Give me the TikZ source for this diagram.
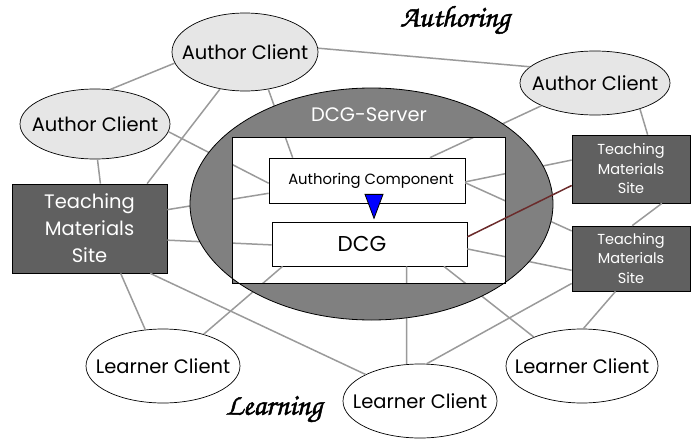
\documentclass[tikz,border=0pt]{standalone}
\usepackage{fontspec}
\setmainfont{Poppins}
\newfontfamily\scriptf[FakeBold=1.6]{TeX Gyre Chorus}
\usetikzlibrary{shapes.geometric,calc}
\definecolor{linegray}{HTML}{9A9A9A}
\definecolor{srvgray}{HTML}{808080}
\definecolor{tmsfill}{HTML}{606060}
\definecolor{acfill}{HTML}{E6E6E6}
\definecolor{brownline}{HTML}{6B2B2B}
\begin{document}
\begin{tikzpicture}[x=1pt,y=-1pt,
  conn/.style={draw=linegray,line width=1.5pt},
  authorc/.style={ellipse,draw=black,line width=0.7pt,fill=acfill,inner sep=0pt,font=\fontsize{19.5}{22}\selectfont},
  learnerc/.style={ellipse,draw=black,line width=0.7pt,fill=white,inner sep=0pt,font=\fontsize{19.5}{22}\selectfont},
  tmsbig/.style={rectangle,draw=black,line width=0.7pt,fill=tmsfill,text=white,align=center,inner sep=0pt,font=\fontsize{19.5}{27}\selectfont},
  tmssmall/.style={rectangle,draw=black,line width=0.7pt,fill=tmsfill,text=white,align=center,inner sep=0pt,font=\fontsize{14.5}{19.5}\selectfont},
  wbox/.style={rectangle,draw=black,line width=0.7pt,fill=white,inner sep=0pt},
  scriptlbl/.style={font=\scriptf\fontsize{30}{32}\selectfont}]
\useasboundingbox (0,0) rectangle (691,439);

% nodes
\node[authorc,minimum width=146pt,minimum height=78pt] (acT) at (245,52) {\makebox[0pt]{Author Client}};
\node[authorc,minimum width=150pt,minimum height=70pt] (acL) at (95,124) {\makebox[0pt]{Author Client}};
\node[authorc,minimum width=150pt,minimum height=64pt] (acR) at (595,83) {\makebox[0pt]{Author Client}};
\node[tmsbig,minimum width=155pt,minimum height=89pt] (tmsL) at (89.5,228.5) {Teaching\\Materials\\Site};
\node[tmssmall,minimum width=118pt,minimum height=68pt] (tmsR1) at (631,169) {Teaching\\Materials\\Site};
\node[tmssmall,minimum width=118pt,minimum height=65pt] (tmsR2) at (631,258.5) {Teaching\\Materials\\Site};
\node[learnerc,minimum width=154pt,minimum height=74pt] (lcL) at (163,366) {\makebox[0pt]{Learner Client}};
\node[learnerc,minimum width=154pt,minimum height=74pt] (lcM) at (420,401) {\makebox[0pt]{Learner Client}};
\node[learnerc,minimum width=152pt,minimum height=74pt] (lcR) at (582,366) {\makebox[0pt]{Learner Client}};
\node[wbox,minimum width=196pt,minimum height=45pt,font=\fontsize{14.8}{17}\selectfont] (acomp) at (367,180.5) {\makebox[0pt]{\hspace*{8pt}Authoring Component}};
\node[wbox,minimum width=195pt,minimum height=44pt,font=\fontsize{21.5}{24}\selectfont] (dcg) at (369.5,244) {\makebox[0pt]{DCG\hspace*{15pt}}};
\node[scriptlbl] (authlbl) at (455,20) {Authoring};
\node[scriptlbl] (learnlbl) at (274,409) {Learning};

% connectors (drawn beneath the server ring)
\draw[conn] (acT.3) -- (acR.166);
\draw[conn] (acT.189) -- (acL.66);
\draw[conn] (acT.236) -- ($(tmsL.north west)!0.87!(tmsL.north east)$);
\draw[conn] (acT.302) -- ($(acomp.north west)!0.122!(acomp.north east)$);
\draw[conn] (acL.354) -- ($(acomp.north west)!0.56!(acomp.south west)$);
\draw[conn] (acL.-86) -- ($(tmsL.north west)!0.57!(tmsL.north east)$);
\draw[conn] (acR.203) -- ($(acomp.north west)!0.82!(acomp.north east)$);
\draw[conn] (acR.330) -- ($(tmsR1.north west)!0.64!(tmsR1.north east)$);
\draw[conn] ($(tmsR1.north west)!0.37!(tmsR1.south west)$) -- ($(acomp.north east)!0.53!(acomp.south east)$);
\draw[conn] ($(acomp.north east)!0.55!(acomp.south east)$) -- ($(tmsR2.north west)!0.08!(tmsR2.south west)$);
\draw[conn] ($(tmsR2.north west)!0.51!(tmsR2.north east)$) -- ($(tmsR1.south west)!0.76!(tmsR1.south east)$);
\draw[conn] ($(dcg.north east)!0.61!(dcg.south east)$) -- ($(tmsR2.north west)!0.68!(tmsR2.south west)$);
\draw[conn] ($(dcg.south west)!0.69!(dcg.south east)$) -- (lcM.110);
\draw[conn] ($(dcg.south west)!0.88!(dcg.south east)$) -- (lcR.149);
\draw[conn] ($(tmsR2.south west)!0.37!(tmsR2.south east)$) -- (lcR.88);
\draw[conn] ($(tmsR2.north west)!0.88!(tmsR2.south west)$) -- (lcM.80);
\draw[conn] ($(tmsL.south west)!0.89!(tmsL.south east)$) -- (lcM.154);
\draw[conn] ($(tmsL.south west)!0.70!(tmsL.south east)$) -- (lcL.116);
\draw[conn] (lcL.38) -- ($(dcg.south west)!0.056!(dcg.south east)$);
\draw[conn] ($(tmsL.north east)!0.29!(tmsL.south east)$) -- ($(acomp.north west)!0.78!(acomp.south west)$);
\draw[conn] ($(tmsL.north east)!0.63!(tmsL.south east)$) -- ($(dcg.north west)!0.52!(dcg.south west)$);

% server ring (ellipse with the rectangular window)
\fill[srvgray,even odd rule] (371.5,204) ellipse [x radius=181.5pt, y radius=116pt] (232,137) rectangle (505,283);
\draw[black,line width=0.8pt] (371.5,204) ellipse [x radius=181.5pt, y radius=116pt];
\draw[black,line width=1pt] (232,137) rectangle (505,283);
\node[text=white,font=\fontsize{19.5}{22}\selectfont] (srvlabel) at (369,115) {DCG-Server};

% brown connector over the ring
\draw[brownline,line width=1.5pt] ($(tmsR1.north west)!0.74!(tmsR1.south west)$) -- ($(dcg.north east)!0.34!(dcg.south east)$);

% blue arrow head between components
\filldraw[fill=blue,draw=black,line width=0.8pt] ($(acomp.south)+(-2,-9)$) -- ++(18,0) -- ++(-9,24) -- cycle;
\end{tikzpicture}
\end{document}
